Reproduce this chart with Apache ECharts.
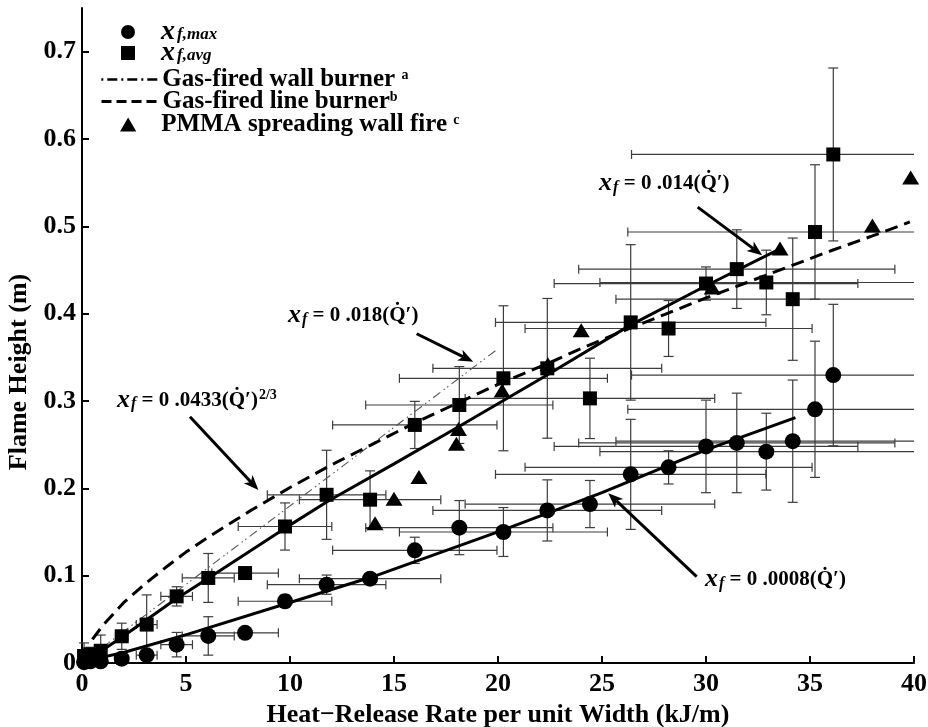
<!DOCTYPE html>
<html>
<head>
<meta charset="utf-8">
<script src="https://cdn.jsdelivr.net/npm/echarts@6/dist/echarts.min.js"></script>
<style>
  html, body { margin: 0; padding: 0; background: #fff; }
  #chart { width: 928px; height: 727px; }
</style>
</head>
<body>
<div id="chart"></div>
<script>
// Heat-release rate per unit width at each test condition (kJ/m)
const qPrime = [0.1, 0.4, 0.9, 1.91, 3.11, 4.55, 6.07, 7.84, 9.76, 11.76, 13.85, 16.0, 18.14, 20.26, 22.37, 24.42, 26.38, 28.2, 30.0, 31.48, 32.9, 34.17, 35.24, 36.12];
// half-width of the heat-release uncertainty (kJ/m)
const qPrimeErr = [0, 0.1, 0.25, 0.3, 0.5, 0.76, 1.25, 1.6, 2.25, 2.85, 3.4, 3.95, 4.5, 5.0, 5.5, 6.0, 6.5, 6.9, 7.3, 7.6, 8.0, 8.5, 9.0, 9.7];
// maximum flame height (m) and its uncertainty
const xfMax = [0.001, 0.002, 0.002, 0.005, 0.009, 0.021, 0.031, 0.0345, 0.0707, 0.0897, 0.0966, 0.129, 0.155, 0.150, 0.1747, 0.182, 0.216, 0.224, 0.248, 0.252, 0.242, 0.254, 0.2905, 0.3297];
const xfMaxErr = [0.002, 0.002, 0.003, 0.003, 0.004, 0.014, 0.022, 0.004, 0.007, 0.011, 0.004, 0.015, 0.031, 0.028, 0.035, 0.027, 0.063, 0.019, 0.053, 0.057, 0.044, 0.070, 0.078, 0.081];
// average flame height (m) and its uncertainty
const xfAvg = [0.008, 0.010, 0.014, 0.0306, 0.044, 0.0763, 0.0974, 0.103, 0.1563, 0.1926, 0.187, 0.2726, 0.2954, 0.326, 0.3374, 0.303, 0.390, 0.383, 0.4345, 0.451, 0.4357, 0.4166, 0.4935, 0.5823];
const xfAvgErr = [0.015, 0.008, 0.018, 0.015, 0.034, 0.011, 0.028, 0.006, 0.027, 0.051, 0.033, 0.027, 0.044, 0.083, 0.080, 0.046, 0.089, 0.032, 0.019, 0.045, 0.037, 0.070, 0.077, 0.099];
// PMMA spreading wall fire
const pmmaQ = [14.09, 15.0, 16.2, 18.0, 18.1, 20.2, 22.4, 24.0, 30.3, 33.56, 38.0, 39.84];
const pmmaXf = [0.160, 0.188, 0.213, 0.251, 0.268, 0.312, 0.342, 0.381, 0.430, 0.4745, 0.501, 0.556];
// fitted curve through the average heights
const avgFitQ = [0.2, 1, 2, 4.5, 6.2, 9.8, 11.8, 15, 18, 22.3, 26.3, 30, 33.7];
const avgFitXf = [0.003, 0.015, 0.031, 0.073, 0.099, 0.155, 0.185, 0.228, 0.269, 0.329, 0.386, 0.432, 0.476];
// fitted curve through the maximum heights
const maxFitQ = [0.3, 2, 5.1, 10.5, 14, 20.1, 25, 30, 34.3];
const maxFitXf = [0.003, 0.012, 0.033, 0.073, 0.099, 0.151, 0.195, 0.244, 0.281];
// gas-fired line burner correlation
const lineBurnerQ = [0.5, 1, 2, 3, 4, 5, 6, 8, 10, 12, 14, 16, 18, 20, 22, 24, 26, 28, 30, 32, 34, 36, 38, 39.8];
const lineBurnerXf = [0.027, 0.043, 0.069, 0.090, 0.109, 0.127, 0.143, 0.173, 0.201, 0.227, 0.251, 0.275, 0.297, 0.319, 0.339, 0.360, 0.380, 0.399, 0.418, 0.436, 0.454, 0.472, 0.489, 0.505];
// gas-fired wall burner correlation
const wallBurnerQ = [1, 19.9];
const wallBurnerXf = [0.018, 0.358];
// axis ticks
const xTicks = [0, 5, 10, 15, 20, 25, 30, 35, 40];
const yTicks = [0, 0.1, 0.2, 0.3, 0.4, 0.5, 0.6, 0.7];

const SERIF = "'Liberation Serif', 'Times New Roman', serif";

const zip = (a, b) => a.map((v, i) => [v, b[i]]);
const errRows = (ys, yErr) => qPrime.map((q, i) => [q, ys[i], qPrimeErr[i], yErr[i]]);

// Horizontal and vertical error bars with end caps, clipped to the plot area
function renderErrorBars(params, api) {
  const x = api.value(0), y = api.value(1), dx = api.value(2), dy = api.value(3);
  const cs = params.coordSys;
  const p = api.coord([x, y]);
  const children = [];
  const style = { stroke: '#3c3c3c', lineWidth: 1.2 };
  const capX = 5, capY = 4.5;
  const line = (x1, y1, x2, y2) => children.push({ type: 'line', shape: { x1, y1, x2, y2 }, style });
  if (dx > 0) {
    const l = api.coord([x - dx, y])[0], r = api.coord([x + dx, y])[0];
    const L = Math.max(l, cs.x), R = Math.min(r, cs.x + cs.width);
    line(L, p[1], R, p[1]);
    if (l >= cs.x) line(l, p[1] - capY, l, p[1] + capY);
    if (r <= cs.x + cs.width) line(r, p[1] - capY, r, p[1] + capY);
  }
  if (dy > 0) {
    const t = api.coord([x, y + dy])[1], b = api.coord([x, y - dy])[1];
    const B = Math.min(b, cs.y + cs.height);
    line(p[0], t, p[0], B);
    line(p[0] - capX, t, p[0] + capX, t);
    if (b <= cs.y + cs.height) line(p[0] - capX, b, p[0] + capX, b);
  }
  return { type: 'group', children };
}

const chart = echarts.init(document.getElementById('chart'), null, { renderer: 'canvas' });

const legendRich = {
  x: { fontFamily: SERIF, fontStyle: 'italic', fontWeight: 'bold', fontSize: 28, lineHeight: 22 },
  sub: { fontFamily: SERIF, fontStyle: 'italic', fontWeight: 'bold', fontSize: 17, lineHeight: 13, verticalAlign: 'bottom', padding: [0, 0, 0, 2] },
  t: { fontFamily: SERIF, fontWeight: 'bold', fontSize: 25, lineHeight: 22 },
  sup: { fontFamily: SERIF, fontWeight: 'bold', fontSize: 14, lineHeight: 12, verticalAlign: 'top' }
};
const hiddenSymbol = { color: 'rgba(0,0,0,0)', opacity: 0, borderWidth: 0 };

// One legend row per entry so each row sits at its own height.
// Marker rows start at the marker's own left edge, hence the inset.
const legendRows = [
  { left: 121, top: 18, item: { name: 'x_f,max', icon: 'circle' }, text: '{x|x}{sub|f,max}' },
  { left: 121, top: 39, item: { name: 'x_f,avg', icon: 'path://M0 0H10V10H0Z' }, text: '{x|x}{sub|f,avg}' },
  { left: 100, top: 67, item: { name: 'Gas-fired wall burner', itemStyle: hiddenSymbol,
      lineStyle: { width: 2.6, color: '#000', type: [2, 4, 10, 4] } }, text: '{t|Gas-fired wall burner }{sup|a}' },
  { left: 100, top: 89, item: { name: 'Gas-fired line burner', itemStyle: hiddenSymbol,
      lineStyle: { width: 3, color: '#000', type: [10, 5] } }, text: '{t|Gas-fired line burner}{sup|b}' },
  { left: 120, top: 112, item: { name: 'PMMA spreading wall fire', icon: 'path://M5 0L10 8.6L0 8.6Z' }, text: '{t|PMMA spreading wall fire }{sup|c}' }
];
const legends = legendRows.map((r) => ({
  orient: 'vertical',
  left: r.left,
  top: r.top,
  itemWidth: 56,
  itemHeight: 14,
  padding: 0,
  selectedMode: false,
  textStyle: { color: '#000', rich: legendRich },
  formatter: () => r.text,
  data: [r.item]
}));

chart.setOption({
  animation: false,
  backgroundColor: '#fff',
  grid: { left: 82, right: 14, top: 8, bottom: 64, containLabel: false, outerBoundsMode: 'none' },
  legend: legends,
  xAxis: {
    type: 'value', min: 0, max: 40, interval: 5,
    name: 'Heat\u2212Release Rate per unit Width (kJ/m)',
    nameLocation: 'middle', nameGap: 35,
    nameTextStyle: { fontFamily: SERIF, fontWeight: 'bold', fontSize: 26, color: '#000' },
    axisLine: { lineStyle: { color: '#000', width: 2 } },
    axisTick: { inside: true, length: 7, lineStyle: { color: '#000', width: 2 }, customValues: xTicks },
    axisLabel: { fontFamily: SERIF, fontWeight: 'bold', fontSize: 26, color: '#000', margin: 8, customValues: xTicks },
    splitLine: { show: false }
  },
  yAxis: {
    type: 'value', min: 0, max: 0.75, interval: 0.1,
    axisLine: { lineStyle: { color: '#000', width: 2 } },
    axisTick: { inside: true, length: 7, lineStyle: { color: '#000', width: 2 }, customValues: yTicks },
    axisLabel: { fontFamily: SERIF, fontWeight: 'bold', fontSize: 26, color: '#000', margin: 6, customValues: yTicks,
      formatter: (v) => (v === 0 ? '0' : v.toFixed(1)) },
    splitLine: { show: false }
  },
  series: [
    { type: 'custom', name: 'avgErr', renderItem: renderErrorBars, data: errRows(xfAvg, xfAvgErr), z: 1, silent: true },
    { type: 'custom', name: 'maxErr', renderItem: renderErrorBars, data: errRows(xfMax, xfMaxErr), z: 1, silent: true },
    { type: 'line', name: 'Gas-fired wall burner', data: zip(wallBurnerQ, wallBurnerXf), symbol: 'none', z: 2,
      itemStyle: { color: '#000' },
      lineStyle: { color: '#555', width: 1.1, type: [9, 4, 1.5, 3, 1.5, 4] } },
    { type: 'line', name: 'Gas-fired line burner', data: zip(lineBurnerQ, lineBurnerXf), symbol: 'none', z: 3,
      itemStyle: { color: '#000' },
      lineStyle: { color: '#000', width: 3, type: [13, 7] } },
    { type: 'line', name: 'avgFit', data: zip(avgFitQ, avgFitXf), symbol: 'none', z: 3,
      lineStyle: { color: '#000', width: 3 } },
    { type: 'line', name: 'maxFit', data: zip(maxFitQ, maxFitXf), symbol: 'none', z: 3,
      lineStyle: { color: '#000', width: 3 } },
    { type: 'scatter', name: 'x_f,max', data: zip(qPrime, xfMax), symbol: 'circle', symbolSize: 16, z: 4,
      itemStyle: { color: '#000', opacity: 1 } },
    { type: 'scatter', name: 'x_f,avg', data: zip(qPrime, xfAvg), symbol: 'rect', symbolSize: 14, z: 4,
      itemStyle: { color: '#000', opacity: 1 } },
    { type: 'scatter', name: 'PMMA spreading wall fire', data: zip(pmmaQ, pmmaXf), symbol: 'triangle', symbolSize: [17, 14], z: 4,
      itemStyle: { color: '#000', opacity: 1 } }
  ]
});

// Correlation labels with pointer arrows, anchored in data coordinates
const notes = [
  { at: [24.86, 0.549], text: '{x|x}{f|f}{t| = 0 .014(}{t|Q\u0307\u2032}{t|)}', tail: [29.6, 0.522], tip: [32.7, 0.467] },
  { at: [9.9, 0.398], text: '{x|x}{f|f}{t| = 0 .018(}{t|Q\u0307\u2032}{t|)}', tail: [16.09, 0.377], tip: [18.81, 0.345] },
  { at: [1.68, 0.301], text: '{x|x}{f|f}{t| = 0 .0433(}{t|Q\u0307\u2032}{t|)}{s|2/3}', tail: [5.19, 0.282], tip: [8.48, 0.198] },
  { at: [29.95, 0.0954], text: '{x|x}{f|f}{t| = 0 .0008(}{t|Q\u0307\u2032}{t|)}', tail: [29.55, 0.099], tip: [25.3, 0.1945] }
];
const noteRich = {
  x: { fontFamily: SERIF, fontStyle: 'italic', fontWeight: 'bold', fontSize: 26, lineHeight: 24 },
  f: { fontFamily: SERIF, fontStyle: 'italic', fontWeight: 'bold', fontSize: 16, lineHeight: 14, verticalAlign: 'bottom', padding: [0, 0, 0, 1] },
  t: { fontFamily: SERIF, fontWeight: 'bold', fontSize: 21, lineHeight: 24 },
  s: { fontFamily: SERIF, fontWeight: 'bold', fontSize: 14, lineHeight: 12, verticalAlign: 'top', padding: [0, 0, 0, 1] }
};
const toPx = (v) => chart.convertToPixel({ gridIndex: 0 }, v);
const graphics = [];
notes.forEach((n) => {
  const a = toPx(n.at), t0 = toPx(n.tail), t1 = toPx(n.tip);
  graphics.push({ type: 'text', x: a[0], y: a[1], z: 10,
    style: { text: n.text, rich: noteRich, fill: '#000', verticalAlign: 'middle', align: 'left' } });
  const ang = Math.atan2(t1[1] - t0[1], t1[0] - t0[0]);
  const len = 15, half = 6, notch = 11;
  const ux = Math.cos(ang), uy = Math.sin(ang);
  const bx = t1[0] - ux * len, by = t1[1] - uy * len;
  const nx = t1[0] - ux * notch, ny = t1[1] - uy * notch;
  graphics.push({ type: 'line', z: 10, shape: { x1: t0[0], y1: t0[1], x2: nx, y2: ny },
    style: { stroke: '#000', lineWidth: 3 } });
  graphics.push({ type: 'polygon', z: 10, shape: { points: [
      [t1[0], t1[1]], [bx - uy * half, by + ux * half], [nx, ny], [bx + uy * half, by - ux * half]] },
    style: { fill: '#000' } });
});

// Vertical axis title
graphics.push({ type: 'text', x: 19, y: 372, rotation: Math.PI / 2, z: 10,
  style: { text: 'Flame Height (m)', fontFamily: SERIF, fontWeight: 'bold', fontSize: 26, fill: '#000',
    align: 'center', verticalAlign: 'middle' } });

chart.setOption({ graphic: graphics });
</script>
</body>
</html>
